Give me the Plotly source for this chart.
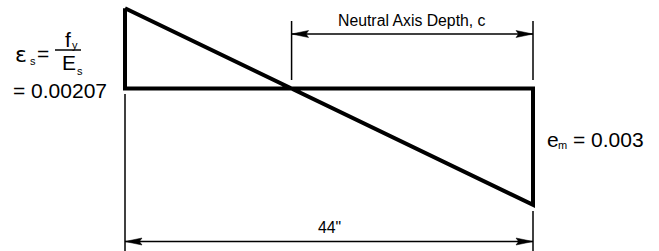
import plotly.graph_objects as go

# ---- data ----
section_depth = [0.0, 44.0]            # inches, left face to right face
strain_values = [0.00207, -0.003]      # steel strain (top) / concrete strain (bottom)
depth_label = '44"'
na_label = "Neutral Axis Depth, c"
steel_value_text = "= 0.00207"
concrete_value_text = "= 0.003"

W, H = 659, 251
FONT = "Liberation Sans, Arial, sans-serif"

# ---- scales (layout) ----
x_left_px, x_right_px = 125, 533
sx = (x_right_px - x_left_px) / (section_depth[1] - section_depth[0])
base_px = 88.5
sy = 38800.0
x_range = [section_depth[0] - x_left_px / sx, section_depth[0] + (W - x_left_px) / sx]
y_range = [-(H - base_px) / sy, base_px / sy]

def py(p):
    return 1 - p / H

def pxp(p):
    return p / W

x0, x1 = section_depth
es, em = strain_values
x_na = x0 + (x1 - x0) * es / (es - em)

fig = go.Figure()
fig.add_trace(go.Scatter(
    x=[x0, x1, x1, x0, x0],
    y=[es, em, 0, 0, es],
    mode="lines",
    line=dict(color="black", width=4),
    hoverinfo="skip",
    showlegend=False,
))

thin = dict(color="black", width=1.5)
shapes = []
# extension lines
shapes.append(dict(type="line", xref="x", yref="paper", x0=x0, x1=x0, y0=py(94), y1=0, line=thin))
shapes.append(dict(type="line", xref="x", yref="paper", x0=x1, x1=x1, y0=py(211), y1=0, line=thin))
shapes.append(dict(type="line", xref="x", yref="paper", x0=x_na, x1=x_na, y0=py(21), y1=py(80), line=thin))
shapes.append(dict(type="line", xref="x", yref="paper", x0=x1, x1=x1, y0=py(21), y1=py(80), line=thin))

# dimension lines with arrowheads
L = 17 / sx
h = 3.5 / H
def arrow_head(xt, yt, direction):
    xb = xt - direction * L
    xn = xt - direction * 0.85 * L
    return (f"M{xt},{yt} L{xb},{yt + h} L{xn},{yt} L{xb},{yt - h} Z")

for (xa, xb, yp) in [(x_na, x1, py(34)), (x0, x1, py(241.5))]:
    shapes.append(dict(type="line", xref="x", yref="paper", x0=xa, x1=xb, y0=yp, y1=yp, line=thin))
    shapes.append(dict(type="path", xref="x", yref="paper", path=arrow_head(xa, yp, -1),
                       fillcolor="black", line=dict(color="black", width=0.5)))
    shapes.append(dict(type="path", xref="x", yref="paper", path=arrow_head(xb, yp, 1),
                       fillcolor="black", line=dict(color="black", width=0.5)))

# fraction bar
shapes.append(dict(type="line", xref="paper", yref="paper", x0=pxp(55), x1=pxp(81),
                   y0=py(50), y1=py(50), line=dict(color="black", width=1.5)))

ann = []
def txt(text, xpx, base, size, anchor="left", xref="paper", xval=None, family=FONT):
    ann.append(dict(
        text=text, showarrow=False,
        xref=xref, yref="paper",
        x=xval if xval is not None else pxp(xpx),
        y=py(base - 0.35 * size),
        xanchor=anchor, yanchor="middle",
        font=dict(family=family, size=size, color="black"),
        borderpad=0,
    ))

BIG = 21
SUB = 11
txt(na_label, None, 26, 15.8, anchor="center", xref="x", xval=(x_na + x1) / 2)
txt(depth_label, None, 233, 15.8, anchor="center", xref="x", xval=(x0 + x1) / 2)

txt("ε", 14, 62, 22, family="DejaVu Sans, sans-serif")
txt("s", 28.5, 65, SUB)
txt("=", 36, 61, BIG)
txt("f", 64, 47, BIG)
txt("y", 71, 49, SUB)
txt("E", 61, 70, BIG)
txt("s", 76, 75, SUB)
txt(steel_value_text, 12, 98, BIG)

txt("e", 546, 147, BIG)
txt("m", 557, 149, SUB)
txt(concrete_value_text, 572, 147, BIG)

fig.update_layout(
    width=W, height=H,
    margin=dict(l=0, r=0, t=0, b=0),
    paper_bgcolor="white", plot_bgcolor="white",
    xaxis=dict(range=x_range, visible=False, fixedrange=True),
    yaxis=dict(range=y_range, visible=False, fixedrange=True),
    shapes=shapes,
    annotations=ann,
    showlegend=False,
)

fig.write_html("out.html", config={"displayModeBar": False},
               post_script="document.body.style.margin='0';document.body.style.overflow='hidden';")
